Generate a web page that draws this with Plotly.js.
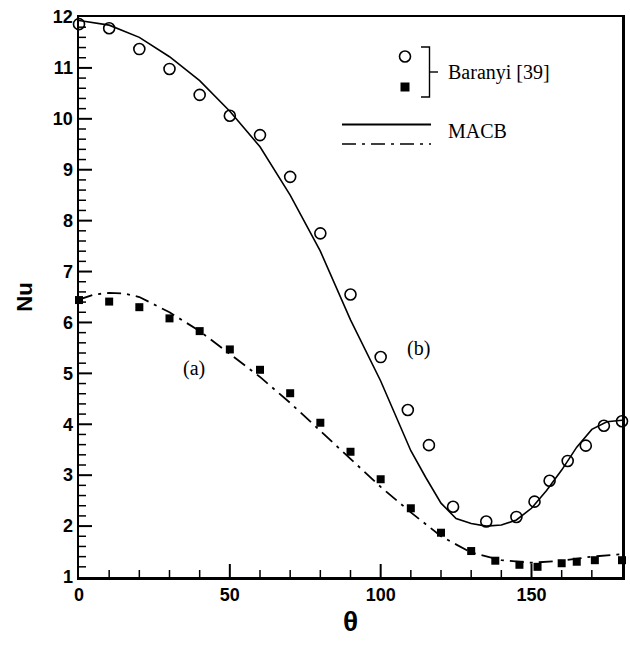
<!DOCTYPE html>
<html>
<head>
<meta charset="utf-8">
<script src="https://cdn.plot.ly/plotly-3.0.1.min.js"></script>
<style>html,body{margin:0;padding:0;background:#fff;}#chart{width:630px;height:646px;}</style>
</head>
<body>
<div id="chart"></div>
<script>
// Baranyi [39] case (b): open circles
const thetaB = [0, 10, 20, 30, 40, 50, 60, 70, 80, 90, 100, 109, 116, 124, 135, 145, 151, 156, 162, 168, 174, 180];
const nuB    = [11.86, 11.78, 11.37, 10.98, 10.47, 10.06, 9.68, 8.86, 7.75, 6.55, 5.32, 4.28, 3.59, 2.38, 2.09, 2.18, 2.48, 2.89, 3.28, 3.58, 3.97, 4.06];
// Baranyi [39] case (a): filled squares
const thetaA = [0, 10, 20, 30, 40, 50, 60, 70, 80, 90, 100, 110, 120, 130, 138, 146, 152, 160, 165, 171, 180];
const nuA    = [6.44, 6.41, 6.30, 6.08, 5.83, 5.47, 5.07, 4.61, 4.03, 3.46, 2.92, 2.35, 1.87, 1.51, 1.32, 1.24, 1.20, 1.27, 1.30, 1.33, 1.33];
// MACB case (b): solid line
const thetaMb = [0, 10, 20, 30, 40, 50, 60, 70, 80, 90, 100, 110, 115, 120, 125, 130, 135, 140, 145, 150, 155, 160, 165, 170, 175, 180];
const nuMb    = [11.93, 11.84, 11.6, 11.22, 10.75, 10.15, 9.45, 8.5, 7.4, 6.05, 4.85, 3.48, 2.95, 2.45, 2.15, 2.05, 2.0, 2.02, 2.12, 2.35, 2.7, 3.1, 3.55, 3.9, 4.05, 4.08];
// MACB case (a): dash-dot line
const thetaMa = [0, 5, 10, 15, 20, 30, 40, 50, 60, 70, 80, 90, 100, 110, 120, 130, 140, 150, 160, 170, 180];
const nuMa    = [6.45, 6.55, 6.58, 6.57, 6.5, 6.2, 5.83, 5.38, 4.93, 4.42, 3.88, 3.32, 2.77, 2.27, 1.8, 1.48, 1.33, 1.28, 1.32, 1.4, 1.45];
// labels
const legendLabels = ["Baranyi [39]", "MACB"];
const curveLabels = ["(a)", "(b)"];
const curveLabelPos = [[38, 5.1], [112.5, 5.49]];
// axis ranges and tick steps
const xRange = [0, 180], xMajor = 50, xMinor = 10;
const yRange = [1, 12], yMajor = 1, yMinorCount = 5;

const W = 630, H = 646;
const M = {l: 79, r: 8, t: 17, b: 69};
const PW = W - M.l - M.r, PH = H - M.t - M.b;
const px = x => (x - M.l) / PW;
const py = y => (H - M.b - y) / PH;
// data units per pixel (for tick lengths)
const xPerPx = (xRange[1] - xRange[0]) / PW;
const yPerPx = (yRange[1] - yRange[0]) / PH;

const serif = "Liberation Serif, Times New Roman, serif";
const sans = "Liberation Sans, Arial, sans-serif";
const dashDot = "14px,6px,3px,6px";

const traces = [
  {x: thetaMb, y: nuMb, mode: "lines", line: {color: "#000", width: 1.6}, showlegend: false},
  {x: thetaMa, y: nuMa, mode: "lines", line: {color: "#000", width: 1.8, dash: dashDot}, showlegend: false},
  {x: thetaB, y: nuB, mode: "markers", cliponaxis: false, marker: {symbol: "circle-open", size: 11, color: "#000", line: {width: 1.6, color: "#000"}}, showlegend: false},
  {x: thetaA, y: nuA, mode: "markers", cliponaxis: false, marker: {symbol: "square", size: 8, color: "#000"}, showlegend: false}
];

const shapes = [
  // legend glyphs
  {type: "circle", xref: "paper", yref: "paper", x0: px(399.5), x1: px(410.5), y0: py(62), y1: py(51), line: {color: "#000", width: 1.6}},
  {type: "rect", xref: "paper", yref: "paper", x0: px(400.5), x1: px(409.5), y0: py(91.5), y1: py(82.5), fillcolor: "#000", line: {color: "#000", width: 0}},
  {type: "path", xref: "paper", yref: "paper", path: `M ${px(421)} ${py(47)} L ${px(429.5)} ${py(47)} L ${px(429.5)} ${py(97)} L ${px(421)} ${py(97)}`, line: {color: "#000", width: 1.4}},
  {type: "line", xref: "paper", yref: "paper", x0: px(429.5), x1: px(438), y0: py(72), y1: py(72), line: {color: "#000", width: 1.4}},
  {type: "line", xref: "paper", yref: "paper", x0: px(342), x1: px(431), y0: py(124.5), y1: py(124.5), line: {color: "#000", width: 1.8}},
  {type: "line", xref: "paper", yref: "paper", x0: px(342), x1: px(431), y0: py(144), y1: py(144), line: {color: "#000", width: 1.4, dash: dashDot}}
];

// inside tick marks (major + minor), placed through both axis scales
for (let t = xRange[0] + xMinor; t < xRange[1]; t += xMinor) {
  const major = t % xMajor === 0;
  shapes.push({type: "line", xref: "x", yref: "y", x0: t, x1: t,
    y0: yRange[0], y1: yRange[0] + (major ? 13 : 7) * yPerPx,
    line: {color: "#000", width: major ? 2 : 1.5}});
}
const nY = Math.round((yRange[1] - yRange[0]) / yMajor * yMinorCount);
for (let k = 1; k < nY; k++) {
  const v = yRange[0] + k * yMajor / yMinorCount;
  const major = k % yMinorCount === 0;
  shapes.push({type: "line", xref: "x", yref: "y",
    x0: xRange[0], x1: xRange[0] + (major ? 13 : 7) * xPerPx, y0: v, y1: v,
    line: {color: "#000", width: major ? 2 : 1.5}});
}

const annotations = [
  {xref: "paper", yref: "paper", x: px(446), y: py(72), xanchor: "left", yanchor: "middle", text: legendLabels[0], showarrow: false, font: {family: serif, size: 20, color: "#000"}},
  {xref: "paper", yref: "paper", x: px(446), y: py(131), xanchor: "left", yanchor: "middle", text: legendLabels[1], showarrow: false, font: {family: serif, size: 20, color: "#000"}},
  {x: curveLabelPos[0][0], y: curveLabelPos[0][1], text: curveLabels[0], showarrow: false, font: {family: serif, size: 20, color: "#000"}},
  {x: curveLabelPos[1][0], y: curveLabelPos[1][1], text: curveLabels[1], showarrow: false, font: {family: serif, size: 20, color: "#000"}}
];

const tickFont = {family: sans, size: 18, color: "#000", weight: "bold"};

const layout = {
  width: W, height: H,
  margin: M,
  paper_bgcolor: "#fff", plot_bgcolor: "#fff",
  showlegend: false,
  xaxis: {
    range: xRange, showgrid: false, zeroline: false, showline: true, linecolor: "#000", linewidth: 2.5, mirror: true,
    ticks: "", dtick: xMajor, tick0: 0,
    tickfont: tickFont,
    title: {text: "θ", font: {family: sans, size: 28, color: "#000", weight: "bold"}, standoff: 8}
  },
  yaxis: {
    range: yRange, showgrid: false, zeroline: false, showline: true, linecolor: "#000", linewidth: 2.5, mirror: true,
    ticks: "", dtick: yMajor, tick0: 1,
    tickfont: tickFont,
    title: {text: "Nu", font: {family: sans, size: 22, color: "#000", weight: "bold"}, standoff: 14}
  },
  shapes: shapes,
  annotations: annotations
};

Plotly.newPlot("chart", traces, layout, {staticPlot: true});
</script>
</body>
</html>
